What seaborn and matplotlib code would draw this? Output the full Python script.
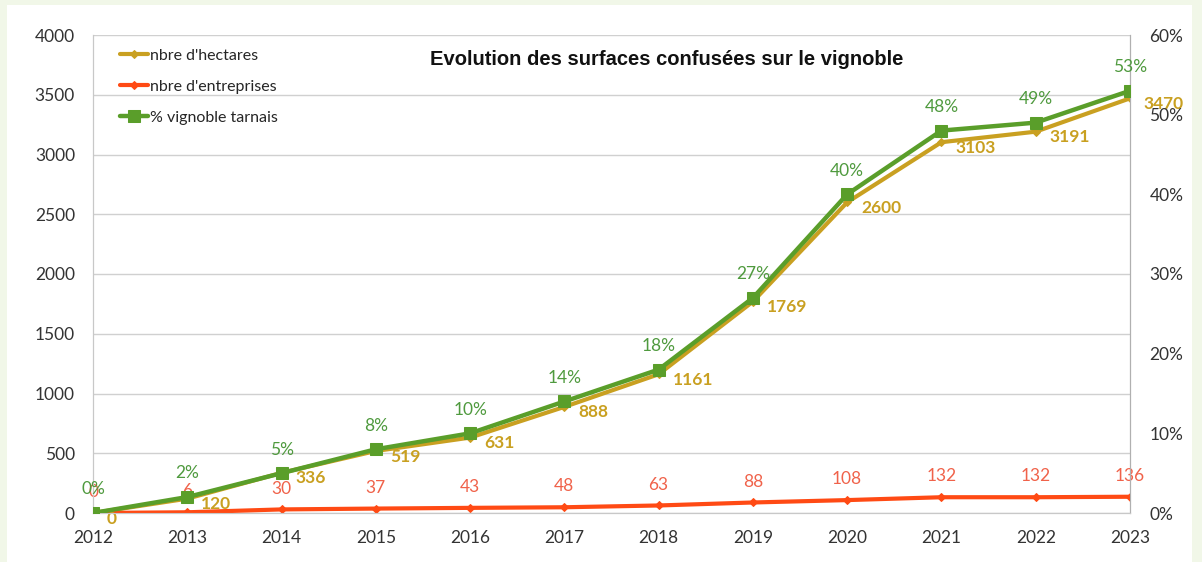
import matplotlib
matplotlib.use('Agg')
import matplotlib.pyplot as plt
from matplotlib.patches import Rectangle
from matplotlib.ticker import PercentFormatter
import seaborn as sns

years = [2012, 2013, 2014, 2015, 2016, 2017, 2018, 2019, 2020, 2021, 2022, 2023]
hectares = [0, 120, 336, 519, 631, 888, 1161, 1769, 2600, 3103, 3191, 3470]
entreprises = [0, 6, 30, 37, 43, 48, 63, 88, 108, 132, 132, 136]
pct_vignoble = [0, 2, 5, 8, 10, 14, 18, 27, 40, 48, 49, 53]

title = "Evolution des surfaces confusées sur le vignoble"
lab_ha = "nbre d'hectares"
lab_ent = "nbre d'entreprises"
lab_pct = "% vignoble tarnais"

c_ha = '#c9a021'
c_ent = '#ff4a14'
c_pct = '#5a9e2a'

sns.set_style('white')
plt.rcParams['font.family'] = ['Lato', 'DejaVu Sans']

fig = plt.figure(figsize=(12.02, 5.62), dpi=100)
fig.patch.set_facecolor('#f1f7e8')
fig.patches.append(Rectangle((7 / 1202, 0), 1185 / 1202, 557 / 562, transform=fig.transFigure,
                             facecolor='white', edgecolor='none', zorder=-10))
ax = fig.add_axes([93 / 1202, 49 / 562, 1037 / 1202, 478 / 562])
ax.set_facecolor('none')
ax2 = ax.twinx()

sns.lineplot(x=years, y=hectares, ax=ax, color=c_ha, lw=3, marker='D', markersize=4,
             markeredgecolor=c_ha, label=lab_ha, zorder=3)
sns.lineplot(x=years, y=entreprises, ax=ax, color=c_ent, lw=3, marker='D', markersize=4,
             markeredgecolor=c_ent, label=lab_ent, zorder=3)
sns.lineplot(x=years, y=[p / 100 for p in pct_vignoble], ax=ax2, color=c_pct, lw=3.2, marker='s',
             markersize=8, markeredgecolor=c_pct, label=lab_pct, zorder=4)

for x, v in zip(years, hectares):
    ax.annotate(str(v), (x, v), xytext=(10, -4), textcoords='offset points', ha='left', va='center',
                color=c_ha, fontsize=12.5, fontweight='bold', zorder=5)
for x, v in zip(years, entreprises):
    ax.annotate(str(v), (x, v), xytext=(0, 15), textcoords='offset points', ha='center', va='center',
                color='#f0624a', fontsize=12.5, zorder=5)
for x, v in zip(years, pct_vignoble):
    ax2.annotate(f"{v}%", (x, v / 100), xytext=(0, 17), textcoords='offset points', ha='center',
                 va='center', color='#4f9a3e', fontsize=12.5, zorder=5)

ax.set_xlim(2012, 2023)
ax.set_ylim(0, 4000)
ax.set_xticks(years)
ax.set_yticks(range(0, 4001, 500))
ax2.set_ylim(0, 0.6)
ax2.set_yticks([i / 10 for i in range(7)])
ax2.yaxis.set_major_formatter(PercentFormatter(1.0, decimals=0))

ax.grid(axis='y', color='#d0d0d0', lw=1)
ax.grid(axis='x', visible=False)
ax2.grid(False)
for a in (ax, ax2):
    a.spines['top'].set_visible(False)
    a.spines['left'].set_color('#c8c8c8')
    a.spines['right'].set_color('#b0b0b0')
    a.spines['bottom'].set_color('#c8c8c8')
    a.tick_params(length=0, labelsize=12.5, colors='#333333')
ax.tick_params(axis='x', pad=12)
ax.tick_params(axis='y', pad=13)
ax2.tick_params(axis='y', pad=14)
ax.set_xlabel('')
ax.set_ylabel('')
ax2.set_ylabel('')

h1, l1 = ax.get_legend_handles_labels()
h2, l2 = ax2.get_legend_handles_labels()
ax2.get_legend().remove()
ax.legend(h1 + h2, l1 + l2, loc='upper left', bbox_to_anchor=(0.015, 0.995), frameon=False,
          fontsize=11.5, handlelength=1.8, handletextpad=0.1, labelspacing=1.05, borderaxespad=0.3)

ax.text(0.553, 0.948, title, transform=ax.transAxes, ha='center', va='center', fontsize=14.5,
        fontweight='bold', family=['Liberation Sans', 'DejaVu Sans'], color='#111111')

fig.savefig('out.png', dpi=100)
